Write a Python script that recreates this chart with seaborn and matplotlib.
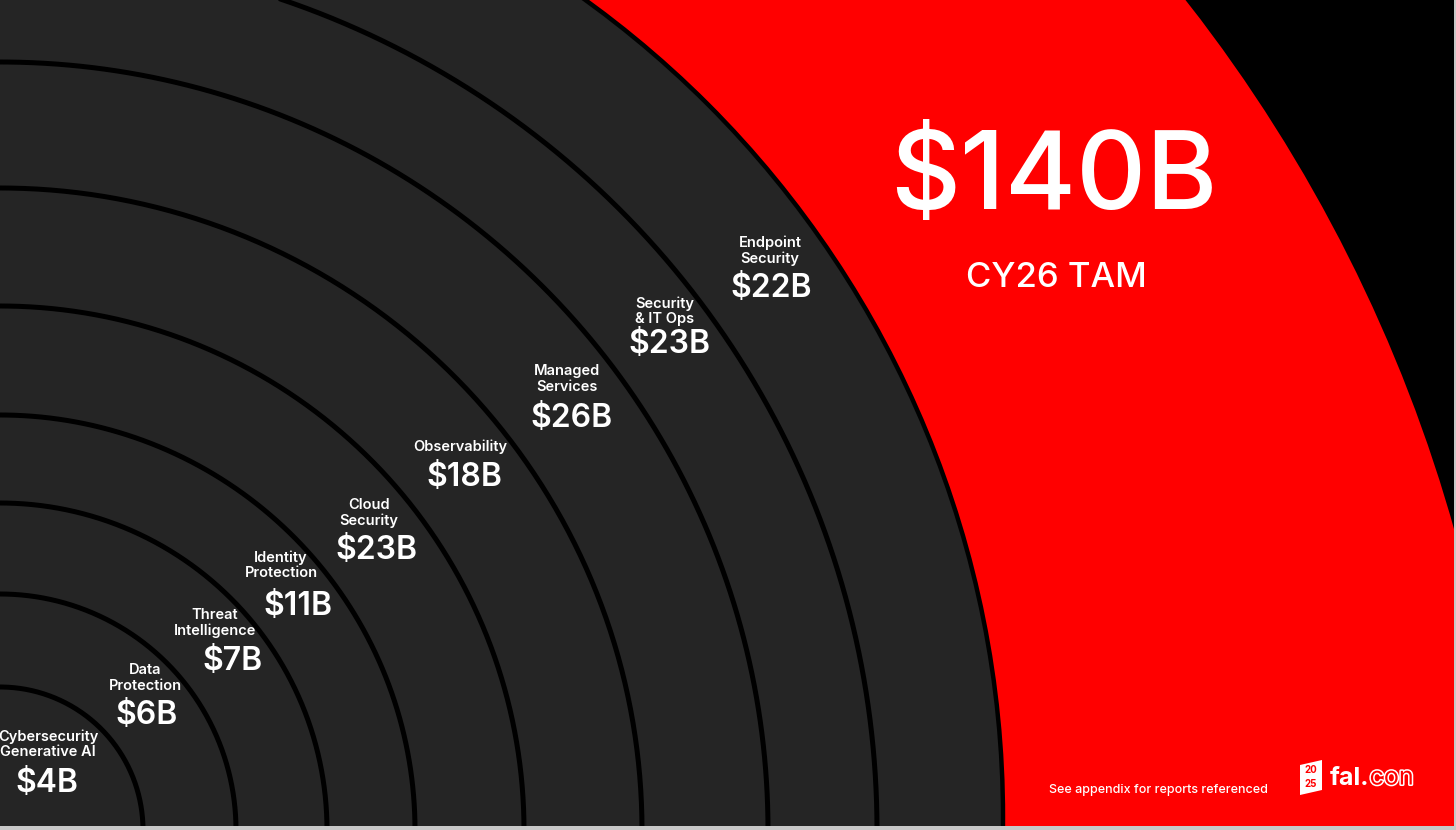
import numpy as np
import pandas as pd
import seaborn as sns
import matplotlib.pyplot as plt
from matplotlib.patches import Circle, Polygon
import matplotlib.patheffects as pe

# %%
# data (inner ring -> outer ring)
segments = ["Cybersecurity\nGenerative AI", "Data\nProtection", "Threat\nIntelligence",
            "Identity\nProtection", "Cloud\nSecurity", "Observability",
            "Managed\nServices", "Security\n& IT Ops", "Endpoint\nSecurity"]
tam_billion = [4, 6, 7, 11, 23, 18, 26, 23, 22]
total_tam = 140
total_label = "CY26 TAM"
footnote = "See appendix for reports referenced"

# ring boundaries, in pixels from the bottom-left corner
ring_radius = [143, 236, 327, 415, 524, 642, 768, 877]
outer_radius = 1008
red_radius = 1526

# %%
# layout (image pixel coords, y from top)
W, H = 1456, 830
name_pos = [(48, 744), (145, 678), (215, 623), (281, 565), (369, 513),
            (460, 447), (567, 379), (665, 311), (770, 251)]
value_pos = [(47, 783), (147, 715), (232, 661), (298, 606), (376, 550),
             (464, 477), (572, 418), (669, 345), (771, 289)]

GRAY = "#252525"
RED = "#ff0000"

sns.set_theme(style="dark")
plt.rcParams['font.family'] = ['Inter', 'DejaVu Sans']

fig = plt.figure(figsize=(W / 100, H / 100), dpi=100, facecolor="#c8c8c8")
ax = fig.add_axes([0, 4 / H, 1454 / W, 826 / H])


def fy(y):
    # flip image y to data y
    return H - y


# red outer disk and grey disk
ax.add_patch(Circle((-15, -112), red_radius, facecolor=RED, edgecolor="none", zorder=1))
ax.add_patch(Circle((-5, 13), outer_radius, facecolor=GRAY, edgecolor="black", lw=3.2, zorder=2))

# ring outlines
theta = np.linspace(0, np.pi / 2, 300)
rings = pd.concat([pd.DataFrame({"x": r * np.cos(theta), "y": r * np.sin(theta), "ring": i})
                   for i, r in enumerate(ring_radius)])
sns.lineplot(data=rings, x="x", y="y", units="ring", estimator=None, sort=False,
             color="black", lw=3.6, ax=ax, zorder=3)

ax.set_facecolor("black")
ax.set_xlim(0, 1454)
ax.set_ylim(4, H)
ax.set_xticks([])
ax.set_yticks([])
ax.set_xlabel("")
ax.set_ylabel("")
for s in ax.spines.values():
    s.set_visible(False)

# segment labels
for name, val, (nx, ny), (vx, vy) in zip(segments, tam_billion, name_pos, value_pos):
    ax.text(nx, fy(ny), name, color="white", fontsize=10.5, fontweight="semibold",
            ha="center", va="center", linespacing=1.1, zorder=5)
    ax.text(vx, fy(vy), f"${val}B", color="white", fontsize=23, fontweight="semibold",
            ha="center", va="center", zorder=5)

# total
ax.text(1054, fy(180), f"${total_tam}B", color="white", fontsize=78, fontweight="medium",
        ha="center", va="center", zorder=5)
ax.text(1056, fy(278), total_label, color="white", fontsize=25, fontweight="medium",
        ha="center", va="center", zorder=5)

# footer
ax.text(1158, fy(790), footnote, color="white", fontsize=9, fontweight="medium",
        ha="center", va="center", zorder=5)

# fal.con logo
ax.add_patch(Polygon([(1300, fy(765)), (1322, fy(760)), (1322, fy(790)), (1300, fy(795))],
                     closed=True, facecolor="white", edgecolor="none", zorder=5))
ax.text(1311, fy(770), "20", color=RED, fontsize=7, fontweight="bold",
        ha="center", va="center", zorder=6)
ax.text(1311, fy(784), "25", color=RED, fontsize=7, fontweight="bold",
        ha="center", va="center", zorder=6)
t1 = ax.text(1330, fy(778), "fal.", color="white", fontsize=18, fontweight="bold",
             ha="left", va="center", zorder=6)
fig.canvas.draw()
bb = t1.get_window_extent().transformed(ax.transData.inverted())
ax.text(bb.x1, fy(778), "con", color=RED, fontsize=18, fontweight="normal",
        ha="left", va="center", zorder=6,
        path_effects=[pe.withStroke(linewidth=2.2, foreground="white")])

fig.savefig("out.png", dpi=100, facecolor=fig.get_facecolor())
